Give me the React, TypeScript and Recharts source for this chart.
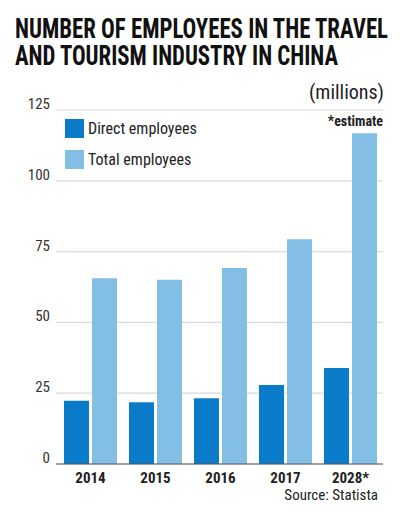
import React from "react";
import { BarChart, Bar, XAxis, YAxis, CartesianGrid } from "recharts";

const years = ["2014", "2015", "2016", "2017", "2028*"];
const directEmployees = [22.3, 21.8, 23.2, 27.9, 33.9];
const totalEmployees = [65.6, 65.1, 69.2, 79.4, 116.8];
const yTicks = [0, 25, 50, 75, 100, 125];

const titleLines = [
  "NUMBER OF EMPLOYEES IN THE TRAVEL",
  "AND TOURISM INDUSTRY IN CHINA",
];
const seriesNames = ["Direct employees", "Total employees"];
const unitLabel = "(millions)";
const noteLabel = "*estimate";
const sourceLabel = "Source: Statista";

const DIRECT = "#0a7bc9";
const TOTAL = "#83bfe4";
const COND =
  "'Roboto Condensed','DejaVu Sans Condensed','Liberation Sans Narrow','Arial Narrow',Roboto,sans-serif";

const data = years.map((y, i) => ({
  year: y,
  direct: directEmployees[i],
  total: totalEmployees[i],
}));

const YTick = (props: any) => {
  const { x, y, payload } = props;
  return (
    <text
      x={x + 2}
      y={y - 1}
      textAnchor="end"
      fontFamily={COND}
      style={{ fontStretch: "condensed" }}
      fontSize={15}
      fill="#333"
    >
      {payload.value}
    </text>
  );
};

const XTick = (props: any) => {
  const { x, y, payload } = props;
  return (
    <text
      x={x}
      y={y + 11}
      textAnchor="middle"
      fontFamily={COND}
      style={{ fontStretch: "condensed" }}
      fontWeight="bold"
      fontSize={15}
      fill="#222"
    >
      {payload.value}
    </text>
  );
};

export default function App() {
  return (
    <div
      style={{
        position: "absolute",
        left: 0,
        top: 0,
        width: 400,
        height: 511,
        background: "#fff",
        overflow: "hidden",
      }}
    >
      <BarChart
        width={400}
        height={511}
        data={data}
        margin={{ top: 110, right: 17, bottom: 17, left: 0 }}
        barGap={3}
        barCategoryGap={6}
      >
        <CartesianGrid vertical={false} stroke="#dadada" strokeWidth={1.2} />
        <XAxis
          dataKey="year"
          height={30}
          axisLine={{ stroke: "#555", strokeWidth: 1.2 }}
          tickLine={false}
          tick={<XTick />}
          padding={{ left: 2, right: 0 }}
          interval={0}
        />
        <YAxis
          width={56}
          domain={[0, 125]}
          ticks={yTicks}
          axisLine={false}
          tickLine={false}
          tick={<YTick />}
          interval={0}
        />
        <Bar dataKey="direct" fill={DIRECT} isAnimationActive={false} />
        <Bar dataKey="total" fill={TOTAL} isAnimationActive={false} />
      </BarChart>

      <div style={{ position: "absolute", left: 65, top: 119 }}>
        {[DIRECT, TOTAL].map((c, i) => (
          <div
            key={i}
            style={{
              display: "flex",
              alignItems: "center",
              height: 19,
              marginBottom: 12,
            }}
          >
            <div style={{ width: 19, height: 19, background: c }} />
            <span
              style={{
                marginLeft: 4,
                fontFamily: COND,
                fontStretch: "condensed",
                fontSize: 16,
                color: "#222",
                whiteSpace: "nowrap",
                lineHeight: "19px",
              }}
            >
              {seriesNames[i]}
            </span>
          </div>
        ))}
      </div>

      <svg
        width={400}
        height={511}
        style={{ position: "absolute", left: 0, top: 0, pointerEvents: "none" }}
      >
        <text
          x={15}
          y={38}
          fontFamily={COND}
          style={{ fontStretch: "condensed" }}
          fontWeight="bold"
          fontSize={27}
          fill="#111"
          textLength={373}
          lengthAdjust="spacingAndGlyphs"
        >
          {titleLines[0]}
        </text>
        <text
          x={15}
          y={65}
          fontFamily={COND}
          style={{ fontStretch: "condensed" }}
          fontWeight="bold"
          fontSize={27}
          fill="#111"
          textLength={323}
          lengthAdjust="spacingAndGlyphs"
        >
          {titleLines[1]}
        </text>
        <text
          x={384}
          y={99}
          textAnchor="end"
          fontFamily={COND}
          style={{ fontStretch: "condensed" }}
          fontSize={20}
          fill="#222"
        >
          {unitLabel}
        </text>
        <text
          x={383}
          y={126}
          textAnchor="end"
          fontFamily={COND}
          style={{ fontStretch: "condensed" }}
          fontWeight="bold"
          fontSize={14}
          fill="#222"
        >
          {noteLabel}
        </text>
        <text
          x={378}
          y={500}
          textAnchor="end"
          fontFamily={COND}
          style={{ fontStretch: "condensed" }}
          fontSize={15}
          fill="#222"
        >
          {sourceLabel}
        </text>
      </svg>
    </div>
  );
}
